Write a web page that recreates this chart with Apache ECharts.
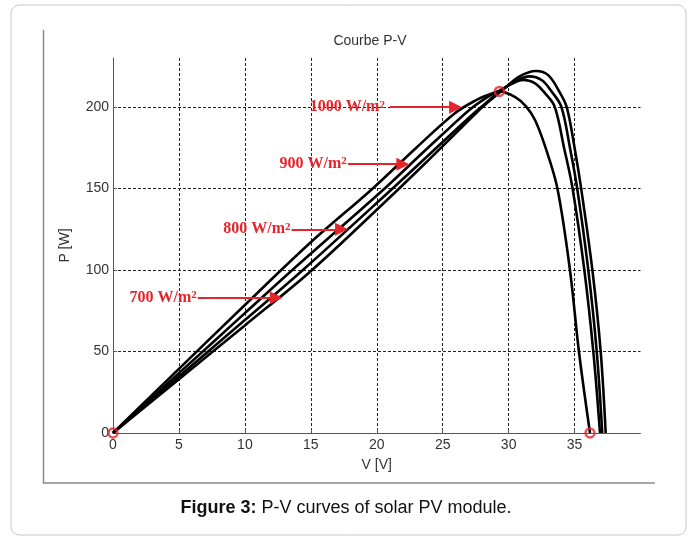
<!DOCTYPE html>
<html>
<head>
<meta charset="utf-8">
<script src="https://cdn.jsdelivr.net/npm/echarts@6/dist/echarts.min.js"></script>
<style>
  html, body { margin: 0; padding: 0; background: #fff; }
  #chart { width: 696px; height: 536px; }
</style>
</head>
<body>
<div id="chart"></div>
<script>
// P-V curves, [V, P] pairs
const curveA = [[0,0],[5,39.3],[10,78.5],[15,117],[19.7,150],[23,175],[25.9,196],[27.5,204],[28.5,207.5],[29.3,209.5],[30.5,206],[31.3,200.5],[32,192],[32.8,175],[33.7,150],[34.65,100],[35.33,50],[36.17,0]]
const curveB = [[0,0],[5,36.7],[10,73.5],[13.6,100],[20.6,150],[23.5,172],[25.5,187],[27,198],[28.3,205.5],[29.3,210],[30.2,214],[31.06,216.6],[32,214.5],[32.8,208],[33.5,200],[34.2,175],[34.85,150],[35.74,100],[36.42,50],[36.93,0]]
const curveC = [[0,0],[5,34.7],[10,69.3],[14.4,100],[21.2,150],[24,171],[26,186],[27.5,197],[28.5,204],[29.4,210],[30.5,215.5],[31.57,218.7],[32.5,216.5],[33.3,209],[34,200],[34.65,175],[35.2,150],[36.04,100],[36.68,50],[37.1,0]]
const curveD = [[0,0],[5,33],[10,66],[15.1,100],[21.7,150],[24,168],[26,184],[27.5,196],[28.6,204],[29.5,210],[30.8,218.5],[32.07,222],[33,219.5],[33.8,210],[34.4,200],[35,175],[35.5,150],[36.35,100],[36.98,50],[37.36,0]]

// red circle markers
const markerPoints = [[0,0],[29.3,209.5],[36.17,0]]

// irradiance annotations: label, arrow start V, arrow tip V, P level
const annoLabels = ['700', '800', '900', '1000']
const annoStartV = [6.43, 13.54, 17.81, 21.0]
const annoTipV = [12.38, 17.33, 21.98, 25.98]
const annoP = [82.9, 124.9, 164.9, 199.8]

const xTicks = { min: 0, max: 40, interval: 5 }
const yTicks = { min: 0, max: 230, interval: 50 }

const red = '#e4252b'
const chart = echarts.init(document.getElementById('chart'))

const curveSeries = [curveA, curveB, curveC, curveD].map(d => ({
  type: 'line',
  data: d,
  smooth: 0.35,
  symbol: 'none',
  lineStyle: { color: '#000', width: 2.6 },
  z: 3
}))

const annoLines = annoLabels.map((lab, i) => [
  {
    coord: [annoStartV[i], annoP[i]],
    label: {
      show: true,
      position: 'start',
      distance: i === 3 ? 5 : 1,
      formatter: lab + ' W/m{sup|2}',
      color: red,
      fontFamily: 'Liberation Serif',
      fontWeight: 'bold',
      fontSize: 16,
      rich: {
        sup: { fontSize: 11, fontWeight: 'bold', fontFamily: 'Liberation Serif', color: red, verticalAlign: 'top' }
      }
    }
  },
  { coord: [annoTipV[i], annoP[i]] }
])

const option = {
  animation: false,
  grid: { left: 113, right: 55.5, top: 58, bottom: 103 },
  xAxis: {
    type: 'value',
    min: xTicks.min, max: xTicks.max, interval: xTicks.interval,
    name: 'V [V]',
    nameLocation: 'middle',
    nameGap: 25,
    nameTextStyle: { color: '#333', fontSize: 14, fontFamily: 'Liberation Sans' },
    axisLine: { lineStyle: { color: '#555', width: 1 } },
    axisTick: { inside: true, length: 4, lineStyle: { color: '#555' } },
    axisLabel: { color: '#333', fontSize: 14, fontFamily: 'Liberation Sans', margin: 5, showMaxLabel: false },
    splitLine: { show: true, showMinLine: false, showMaxLine: false, lineStyle: { color: '#222', type: [3, 2], width: 1 } }
  },
  yAxis: {
    type: 'value',
    min: yTicks.min, max: yTicks.max, interval: yTicks.interval,
    name: 'P [W]',
    nameLocation: 'middle',
    nameGap: 41,
    nameTextStyle: { color: '#333', fontSize: 14, fontFamily: 'Liberation Sans' },
    axisLine: { show: true, lineStyle: { color: '#555', width: 1 } },
    axisTick: { show: true, inside: true, length: 4, lineStyle: { color: '#555' } },
    axisLabel: { color: '#333', fontSize: 14, fontFamily: 'Liberation Sans', margin: 4, showMaxLabel: false },
    splitLine: { show: true, showMinLine: false, showMaxLine: false, lineStyle: { color: '#222', type: [3, 2], width: 1 } }
  },
  graphic: [
    {
      type: 'rect', silent: true, z: -10,
      shape: { x: 11, y: 5, width: 675, height: 530, r: 8 },
      style: { fill: 'none', stroke: '#c9c9c9', lineWidth: 1 }
    },
    {
      type: 'polyline', silent: true,
      shape: { points: [[43.5, 30], [43.5, 483], [655, 483]] },
      style: { fill: 'none', stroke: '#8a8a8a', lineWidth: 1.5 }
    },
    {
      type: 'text', silent: true, x: 370, y: 41,
      style: { text: 'Courbe P-V', fill: '#333', font: '14px "Liberation Sans"', align: 'center', verticalAlign: 'middle' }
    },
    {
      type: 'text', silent: true, x: 346, y: 508,
      style: {
        text: '{b|Figure 3:} P-V curves of solar PV module.',
        fill: '#111', font: '18px "Liberation Sans"', align: 'center', verticalAlign: 'middle',
        rich: { b: { fontWeight: 'bold', fontSize: 18, fontFamily: 'Liberation Sans', fill: '#111' } }
      }
    }
  ],
  series: curveSeries.concat([{
    type: 'scatter',
    data: markerPoints,
    symbol: 'circle',
    symbolSize: 9,
    itemStyle: { color: 'transparent', borderColor: red, borderWidth: 2.5 },
    z: 5,
    silent: true,
    markLine: {
      silent: true,
      symbol: ['none', 'triangle'],
      symbolSize: [13, 13],
      lineStyle: { color: red, width: 2, type: 'solid' },
      data: annoLines
    }
  }])
}

chart.setOption(option)
</script>
</body>
</html>
